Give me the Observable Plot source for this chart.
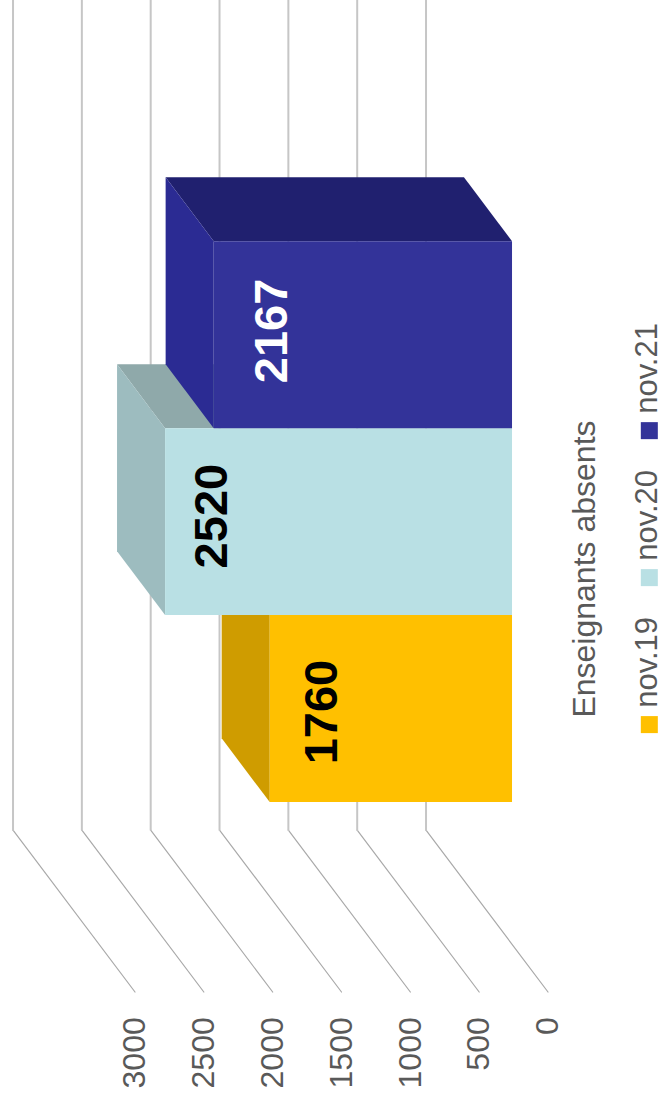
<!DOCTYPE html>
<html>
<head>
<meta charset="utf-8">
<style>html,body{margin:0;padding:0;background:#fff}svg{display:block}</style>
<script src="https://cdn.jsdelivr.net/npm/d3@7"></script>
<script src="https://cdn.jsdelivr.net/npm/@observablehq/plot@0.6"></script>
</head>
<body>
<script>
const series = ["nov.19", "nov.20", "nov.21"];
const values = [1760, 2520, 2167];
const ticks = [0, 500, 1000, 1500, 2000, 2500, 3000];
const frontColors = ["#ffc000", "#b9e0e4", "#333399"];
const sideColors = ["#cf9c00", "#9dbcbf", "#2b2b93"];
const topColors = ["#d9a300", "#8fa9aa", "#20206f"];
const labelColors = ["#000000", "#000000", "#ffffff"];
const labelAtValue = [1641, 2440, 2004];
const labelAtRow = [1.497, 2.545, 3.535];
const legendRow = [1.43, 2.216, 3.002];

// Oblique projection of the 3D chart: depth shifts both the value and the row position
const depthValue = 886, depthRow = 0.866;
const barFront = 0.295, barBack = 0.689, firstRow = 0.76, wallTop = 4.44;
const P = (id, color, corners) => corners.map(([v, r, d]) => ({
  id, color, v: v + depthValue * d, r: r + depthRow * d
}));

const gridPts = ticks.flatMap(t => P("g" + t, "#b5b5b5", [[t, 0, 0], [t, 0, 1]]));
const wallPts = ticks.flatMap(t => P("w" + t, "#c6c6c6", [[t, 0, 1], [t, wallTop, 1]]));

// each bar is painted over the previous one, as in the reference
const faces = [0, 1, 2].flatMap(i => {
  const v = values[i], r0 = firstRow + i, r1 = r0 + 1;
  return [
    ...P("top" + i, topColors[i], [[0, r1, barFront], [0, r1, barBack], [v, r1, barBack], [v, r1, barFront]]),
    ...P("side" + i, sideColors[i], [[v, r0, barFront], [v, r0, barBack], [v, r1, barBack], [v, r1, barFront]]),
    ...P("front" + i, frontColors[i], [[0, r0, barFront], [v, r0, barFront], [v, r1, barFront], [0, r1, barFront]])
  ];
});

const font = "'Liberation Sans', Arial, sans-serif";
const chart = Plot.plot({
  width: 665, height: 1104,
  margin: 0,
  style: {fontFamily: font, background: "#fff"},
  x: {domain: [0, 3000], range: [547.5, 134.5], axis: null},
  y: {domain: [0, 5.305], range: [991.5, -0.5], axis: null},
  color: {type: "identity"},
  marks: [
    Plot.line(gridPts, {x: "v", y: "r", z: "id", stroke: "#a9a9a9", strokeWidth: 1.2}),
    Plot.line(wallPts, {x: "v", y: "r", z: "id", stroke: "#c6c6c6", strokeWidth: 2}),
    Plot.line(faces, {x: "v", y: "r", z: "id", fill: "color", stroke: "none"}),
    Plot.text(values, {
      x: (d, i) => labelAtValue[i], y: (d, i) => labelAtRow[i], text: d => String(d),
      rotate: -90, fontSize: 47, fontWeight: "bold", fill: (d, i) => labelColors[i]
    }),
    Plot.text(ticks, {
      x: d => d, y: () => -0.135, text: d => String(d),
      rotate: -90, textAnchor: "end", fontSize: 32, fill: "#595959"
    }),
    Plot.text(["Enseignants absents"], {
      x: () => -265, y: () => 2.262, text: d => d,
      rotate: -90, textAnchor: "middle", fontSize: 32, fill: "#595959"
    }),
    Plot.dot(series, {
      x: () => -736, y: (d, i) => legendRow[i], symbol: "square", r: 9.6,
      fill: (d, i) => frontColors[i], stroke: "none"
    }),
    Plot.text(series, {
      x: () => -719, y: (d, i) => legendRow[i] + 0.09, text: d => d,
      rotate: -90, textAnchor: "start", fontSize: 31, fill: "#595959"
    })
  ]
});
document.body.appendChild(chart);
</script>
</body>
</html>
